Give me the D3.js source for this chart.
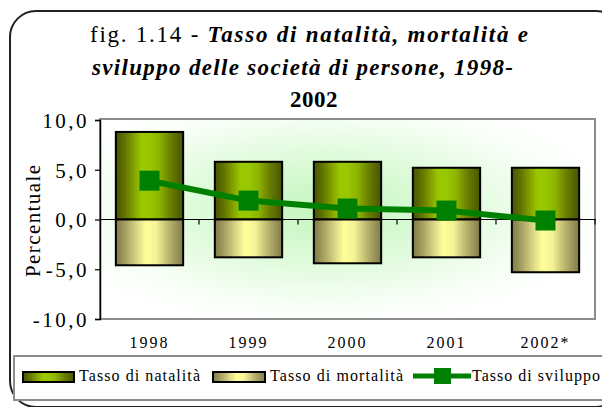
<!DOCTYPE html>
<html><head><meta charset="utf-8">
<script src="https://cdn.jsdelivr.net/npm/d3@7"></script>
<style>
html,body{margin:0;padding:0;background:#fff;}
svg{display:block;}
</style></head>
<body>
<script>
const years = ["1998","1999","2000","2001","2002*"];
const natalita = [8.8, 5.8, 5.8, 5.2, 5.2];
const mortalita = [-4.6, -3.8, -4.4, -3.8, -5.3];
const sviluppo = [3.9, 1.9, 1.1, 0.9, -0.1];
const yTicks = [10, 5, 0, -5, -10];
const seriesNames = ["Tasso di natalità", "Tasso di mortalità", "Tasso di sviluppo"];

const W = 602, H = 407;
const serif = "'Liberation Serif', 'Times New Roman', serif";
const svg = d3.select("body").append("svg").attr("width", W).attr("height", H);
const defs = svg.append("defs");

// gradients
const gN = defs.append("linearGradient").attr("id","gNat").attr("x1","0").attr("x2","1").attr("y1","0").attr("y2","0");
[[0,"#485400"],[0.12,"#5e7000"],[0.25,"#7f9a00"],[0.38,"#99c800"],[0.5,"#99c800"],[0.65,"#8db300"],[0.8,"#6b8200"],[1,"#485400"]]
  .forEach(s=>gN.append("stop").attr("offset",s[0]).attr("stop-color",s[1]));
const gM = defs.append("linearGradient").attr("id","gMor").attr("x1","0").attr("x2","1").attr("y1","0").attr("y2","0");
[[0,"#7f7a48"],[0.15,"#a8a263"],[0.32,"#dcd888"],[0.45,"#ffff99"],[0.6,"#f5f396"],[0.78,"#bdb870"],[1,"#7f7a48"]]
  .forEach(s=>gM.append("stop").attr("offset",s[0]).attr("stop-color",s[1]));
const gBg = defs.append("radialGradient").attr("id","gBg").attr("cx","0.45").attr("cy","0.45").attr("r","0.6");
[[0,"#c4f6be"],[0.4,"#dcfad8"],[0.8,"#f8fff7"],[1,"#ffffff"]].forEach(s=>gBg.append("stop").attr("offset",s[0]).attr("stop-color",s[1]));

// outer frame
svg.append("rect").attr("x",10).attr("y",11).attr("width",612).attr("height",396)
  .attr("rx",26).attr("ry",26).attr("fill","#fff").attr("stroke","#222").attr("stroke-width",2);

// title
const tStyle = s => s.style("font-family",serif).style("font-size","23px").attr("fill","#000").attr("lengthAdjust","spacing");
const t1 = svg.append("text").attr("x",90).attr("y",42).attr("textLength",438).call(tStyle);
t1.append("tspan").text("fig. 1.14 - ");
t1.append("tspan").style("font-weight","bold").style("font-style","italic").text("Tasso di natalità, mortalità e");
svg.append("text").attr("x",92).attr("y",75).attr("textLength",421).call(tStyle)
  .style("font-weight","bold").style("font-style","italic").text("sviluppo delle società di persone, 1998-");
svg.append("text").attr("x",290).attr("y",107).call(tStyle)
  .style("font-weight","bold").style("letter-spacing","0.5px").text("2002");

// plot area
const pL = 100, pR = 595, pT = 120, pB = 319;
const x = d3.scaleBand().domain(years).range([pL, pR]).paddingInner(0.32).paddingOuter(0.16);
const y = d3.scaleLinear().domain([-10, 10]).range([pB, pT]);

svg.append("rect").attr("x",pL).attr("y",y(10)-1).attr("width",pR-pL).attr("height",y(-10)-y(10)+1)
  .attr("fill","url(#gBg)").attr("stroke","#8c8c8c").attr("stroke-width",2);

// bars
svg.append("g").selectAll("rect").data(years).join("rect")
  .attr("x",d=>x(d)).attr("width",x.bandwidth())
  .attr("y",(d,i)=>y(natalita[i])).attr("height",(d,i)=>y(0)-y(natalita[i]))
  .attr("fill","url(#gNat)").attr("stroke","#000").attr("stroke-width",2);
svg.append("g").selectAll("rect").data(years).join("rect")
  .attr("x",d=>x(d)).attr("width",x.bandwidth())
  .attr("y",y(0)).attr("height",(d,i)=>y(mortalita[i])-y(0))
  .attr("fill","url(#gMor)").attr("stroke","#000").attr("stroke-width",2);

// zero line with category ticks
svg.append("line").attr("x1",pL).attr("x2",pR+1).attr("y1",y(0)).attr("y2",y(0)).attr("stroke","#000").attr("stroke-width",1.2);
const step = x.step();
const edge = d => x(d) - step*x.paddingInner()/2 + step;
svg.append("g").selectAll("line").data(years).join("line")
  .attr("x1",edge).attr("x2",edge)
  .attr("y1",y(0)).attr("y2",y(0)+5).attr("stroke","#000").attr("stroke-width",1.2);

// y axis
const yAxis = d3.axisLeft(y).tickValues(yTicks).tickSize(5).tickPadding(6)
  .tickFormat(d=>d3.format(".1f")(d).replace(".",",").replace("−","-"));
const ga = svg.append("g").attr("transform",`translate(${pL},0)`).call(yAxis);
ga.select(".domain").attr("stroke","#000").attr("stroke-width",1.5);
ga.selectAll(".tick line").attr("stroke","#000").attr("stroke-width",1.2);
ga.selectAll(".tick text").style("font-family",serif).style("font-size","21px").style("letter-spacing","2.5px")
  .attr("fill","#000").attr("dy","0.35em");

svg.append("text").attr("transform","translate(40,221) rotate(-90)").attr("text-anchor","middle")
  .attr("textLength",112).attr("lengthAdjust","spacing")
  .style("font-family",serif).style("font-size","21px").text("Percentuale");

// line series
const line = d3.line().x((d,i)=>x(years[i])+x.bandwidth()/2).y(d=>y(d));
svg.append("path").datum(sviluppo).attr("d",line).attr("fill","none").attr("stroke","#008000").attr("stroke-width",6);
svg.append("g").selectAll("rect").data(sviluppo).join("rect")
  .attr("x",(d,i)=>x(years[i])+x.bandwidth()/2-10).attr("y",d=>y(d)-10)
  .attr("width",20).attr("height",20).attr("fill","#008000");

// x labels
svg.append("g").selectAll("text").data(years).join("text")
  .attr("x",d=>x(d)+x.bandwidth()/2).attr("y",348).attr("text-anchor","middle")
  .style("font-family",serif).style("font-size","16px").style("letter-spacing","2px")
  .text(d=>d);

// legend
svg.append("rect").attr("x",14).attr("y",356).attr("width",600).attr("height",44)
  .attr("fill","#fff").attr("stroke","#8c8c8c").attr("stroke-width",2);
const lg = svg.append("g").style("font-family",serif).style("font-size","16px");
lg.append("rect").attr("x",23).attr("y",372).attr("width",51).attr("height",10).attr("fill","url(#gNat)").attr("stroke","#000").attr("stroke-width",2);
lg.append("text").attr("x",79).attr("y",381).attr("textLength",121).attr("lengthAdjust","spacing").text(seriesNames[0]);
lg.append("rect").attr("x",213).attr("y",372).attr("width",52).attr("height",10).attr("fill","url(#gMor)").attr("stroke","#000").attr("stroke-width",2);
lg.append("text").attr("x",270).attr("y",381).attr("textLength",133).attr("lengthAdjust","spacing").text(seriesNames[1]);
lg.append("line").attr("x1",413).attr("x2",471).attr("y1",376).attr("y2",376).attr("stroke","#008000").attr("stroke-width",5);
lg.append("rect").attr("x",434).attr("y",368).attr("width",17).attr("height",16).attr("fill","#008000");
lg.append("text").attr("x",472).attr("y",381).attr("textLength",128).attr("lengthAdjust","spacing").text(seriesNames[2]);
</script>
</body></html>
